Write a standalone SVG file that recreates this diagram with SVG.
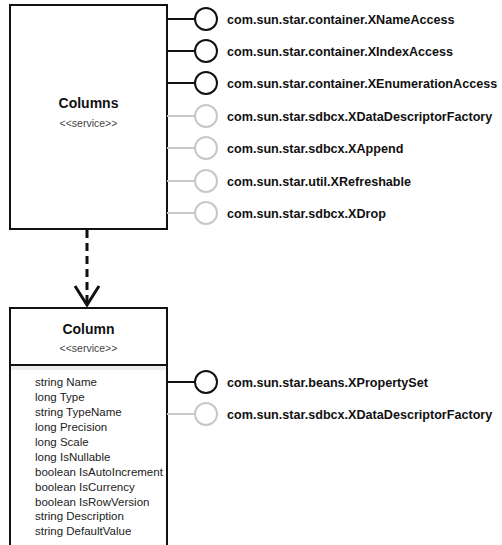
<svg xmlns="http://www.w3.org/2000/svg" width="502" height="545" viewBox="0 0 502 545">
<defs>
<style>
.box{fill:#fff;stroke:#111;stroke-width:2}
.title{font-family:"Liberation Sans",Arial,sans-serif;font-weight:bold;font-size:14px;fill:#111;text-anchor:middle}
.stereo{font-family:"Liberation Sans",Arial,sans-serif;font-size:10.5px;fill:#444;text-anchor:middle}
.attr{font-family:"Liberation Sans",Arial,sans-serif;font-size:11.5px;fill:#222}
.iface{font-family:"Liberation Sans",Arial,sans-serif;font-weight:bold;font-size:12.6px;fill:#111}
.on line,.on circle{stroke:#111;stroke-width:2;fill:#fff}
.off line,.off circle{stroke:#c8c8c8;stroke-width:2;fill:#fff}
.dep{stroke:#111;stroke-width:3;fill:none}
</style>
</defs>
<g id="columns">
<rect class="box" x="10" y="5" width="157" height="224"/>
<text class="title" x="88.5" y="108">Columns</text>
<text class="stereo" x="88.5" y="127">&lt;&lt;service&gt;&gt;</text>
</g>
<g id="column">
<rect class="box" x="10" y="308" width="157" height="260"/>
<rect x="11" y="366" width="155" height="4" fill="#ececec"/>
<line x1="10" y1="365" x2="167" y2="365" stroke="#111" stroke-width="2"/>
<text class="title" x="88.5" y="334">Column</text>
<text class="stereo" x="88.5" y="352">&lt;&lt;service&gt;&gt;</text>
<text class="attr" x="35" y="386">string Name</text>
<text class="attr" x="35" y="401">long Type</text>
<text class="attr" x="35" y="416">string TypeName</text>
<text class="attr" x="35" y="431">long Precision</text>
<text class="attr" x="35" y="446">long Scale</text>
<text class="attr" x="35" y="460.5">long IsNullable</text>
<text class="attr" x="35" y="475.5">boolean IsAutoIncrement</text>
<text class="attr" x="35" y="490.5">boolean IsCurrency</text>
<text class="attr" x="35" y="505.5">boolean IsRowVersion</text>
<text class="attr" x="35" y="520">string Description</text>
<text class="attr" x="35" y="535">string DefaultValue</text>
</g>
<g id="connectors">
<g class="on"><line x1="167" y1="19" x2="195" y2="19"/><circle cx="206" cy="19" r="11"/></g>
<g class="on"><line x1="167" y1="51" x2="195" y2="51"/><circle cx="206" cy="51" r="11"/></g>
<g class="on"><line x1="167" y1="83" x2="195" y2="83"/><circle cx="206" cy="83" r="11"/></g>
<g class="off"><line x1="167" y1="116" x2="195" y2="116"/><circle cx="206" cy="116" r="11"/></g>
<g class="off"><line x1="167" y1="148" x2="195" y2="148"/><circle cx="206" cy="148" r="11"/></g>
<g class="off"><line x1="167" y1="181" x2="195" y2="181"/><circle cx="206" cy="181" r="11"/></g>
<g class="off"><line x1="167" y1="213" x2="195" y2="213"/><circle cx="206" cy="213" r="11"/></g>
<g class="on"><line x1="167" y1="382" x2="195" y2="382"/><circle cx="206" cy="382" r="11"/></g>
<g class="off"><line x1="167" y1="414" x2="195" y2="414"/><circle cx="206" cy="414" r="11"/></g>
<line class="dep" x1="87" y1="230" x2="87" y2="302" stroke-dasharray="8,5"/>
<polyline class="dep" points="75,286 87,305 99,286" stroke-width="2.5"/>
</g>
<g id="labels">
<text class="iface" x="227" y="23.5">com.sun.star.container.XNameAccess</text>
<text class="iface" x="227" y="55.5">com.sun.star.container.XIndexAccess</text>
<text class="iface" x="227" y="87.5">com.sun.star.container.XEnumerationAccess</text>
<text class="iface" x="227" y="120.5">com.sun.star.sdbcx.XDataDescriptorFactory</text>
<text class="iface" x="227" y="152.5">com.sun.star.sdbcx.XAppend</text>
<text class="iface" x="227" y="185.5">com.sun.star.util.XRefreshable</text>
<text class="iface" x="227" y="217.5">com.sun.star.sdbcx.XDrop</text>
<text class="iface" x="227" y="386.5">com.sun.star.beans.XPropertySet</text>
<text class="iface" x="227" y="418.5">com.sun.star.sdbcx.XDataDescriptorFactory</text>
</g>
</svg>
